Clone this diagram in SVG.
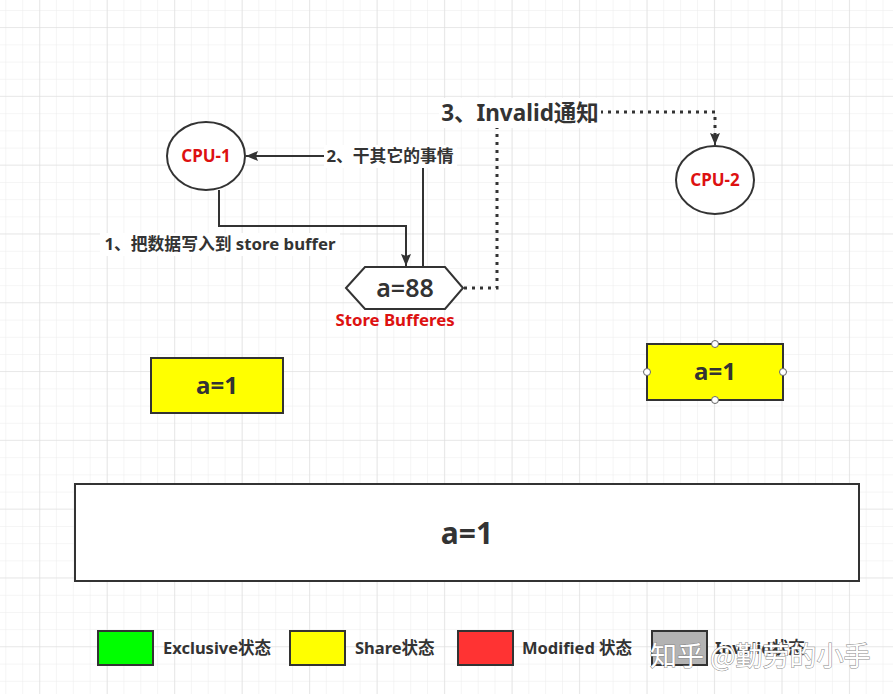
<svg xmlns="http://www.w3.org/2000/svg" width="893" height="694" viewBox="0 0 893 694">
<defs>
<pattern id="gmin" patternUnits="userSpaceOnUse" x="5.3" y="10" width="16.87" height="17.2">
<path d="M0,0 V17.2 M0,0 H16.87" stroke="#ebebeb" stroke-width="1" fill="none"/>
</pattern>
<pattern id="gmaj" patternUnits="userSpaceOnUse" x="39.3" y="27" width="67.48" height="68.8">
<path d="M0,0 V68.8 M0,0 H67.48" stroke="#dcdcdc" stroke-width="1.2" fill="none"/>
</pattern>
<marker id="arr" markerUnits="userSpaceOnUse" viewBox="0 0 12 10" refX="12" refY="5" markerWidth="12" markerHeight="10" orient="auto">
<path d="M0,0 L12,5 L0,10 L2,5 z" fill="#333"/>
</marker>
</defs>
<style>
.t{font-family:"Noto Sans","Noto Sans CJK SC",sans-serif;font-weight:700;fill:#333;}
.red{fill:#dd1111;}
.edge{fill:none;stroke:#333;stroke-width:2;}
.dot{fill:none;stroke:#333;stroke-width:3;stroke-dasharray:3 5;}
.box{stroke:#333;stroke-width:2;}
.lbg{fill:#fff;}
.h{fill:#fff;stroke:#888;stroke-width:1;}
</style>
<rect width="893" height="694" fill="#fff"/>
<rect width="893" height="694" fill="url(#gmin)"/>
<rect width="893" height="694" fill="url(#gmaj)"/>

<g id="connectors">
<path class="edge" d="M219,190 V226 H406 V266" marker-end="url(#arr)"/>
<rect class="lbg" x="100" y="233" width="240" height="23"/>
<text class="t" x="220" y="250" font-size="16.8" text-anchor="middle">1、把数据写入到 store buffer</text>
<path class="edge" d="M423,267 V156 H246" marker-end="url(#arr)"/>
<rect class="lbg" x="324" y="145" width="133" height="23"/>
<text class="t" x="390" y="162" font-size="16.8" text-anchor="middle">2、干其它的事情</text>
<path class="dot" d="M464,288 H497 V112 H715 V135"/>
<path class="edge" d="M715,134 V145" marker-end="url(#arr)"/>
<rect class="lbg" x="439" y="98" width="162" height="30"/>
<text class="t" x="520" y="121" font-size="22.5" text-anchor="middle">3、Invalid通知</text>
</g>

<g id="cpu1">
<ellipse cx="206" cy="156" rx="39" ry="34" fill="#fff" stroke="#333" stroke-width="2"/>
<text class="t red" x="206" y="162" font-size="17" text-anchor="middle">CPU-1</text>
</g>

<g id="cpu2">
<ellipse cx="715" cy="180" rx="39" ry="34" fill="#fff" stroke="#333" stroke-width="2"/>
<text class="t red" x="715" y="186" font-size="17" text-anchor="middle">CPU-2</text>
</g>

<g id="storebuffer">
<polygon points="346,288 365,267 445,267 463,288 445,309 365,309" fill="#fff" stroke="#333" stroke-width="2"/>
<text class="t" x="405" y="297" font-size="25" text-anchor="middle" style="font-weight:600">a=88</text>
<text class="t red" x="395" y="326" font-size="16.8" text-anchor="middle">Store Bufferes</text>
</g>

<g id="cache1">
<rect class="box" x="151" y="358" width="132" height="55" fill="#ffff00"/>
<text class="t" x="217" y="394" font-size="24" text-anchor="middle">a=1</text>
</g>

<g id="cache2">
<rect class="box" x="647" y="344" width="136" height="56" fill="#ffff00"/>
<text class="t" x="715" y="380" font-size="24" text-anchor="middle">a=1</text>
<circle cx="715" cy="344" r="3.5" fill="#fff" stroke="#666"/>
<circle cx="715" cy="400" r="3.5" fill="#fff" stroke="#666"/>
<circle cx="647" cy="372" r="3.5" fill="#fff" stroke="#666"/>
<circle cx="783" cy="372" r="3.5" fill="#fff" stroke="#666"/>
</g>

<g id="memory">
<rect class="box" x="75" y="484" width="784" height="97" fill="#fff"/>
<text class="t" x="467" y="544" font-size="30" text-anchor="middle">a=1</text>
</g>

<g id="legend">
<rect class="box" x="98" y="631" width="55" height="34" fill="#00ff00"/>
<text class="t" x="163" y="654" font-size="16.5">Exclusive状态</text>
<rect class="box" x="290" y="631" width="55" height="34" fill="#ffff00"/>
<text class="t" x="355" y="654" font-size="16.5">Share状态</text>
<rect class="box" x="458" y="631" width="55" height="34" fill="#ff3333"/>
<text class="t" x="522" y="654" font-size="16.5">Modified 状态</text>
<rect class="box" x="652" y="631" width="55" height="34" fill="#b3b3b3"/>
<text class="t" x="715" y="654" font-size="16.5">Invalid状态</text>
</g>

<g id="watermark">
<text class="h" x="650" y="666" font-size="27" font-family="'Noto Sans CJK SC',sans-serif" style="paint-order:stroke">知乎 @勤劳的小手</text>
</g>
</svg>
